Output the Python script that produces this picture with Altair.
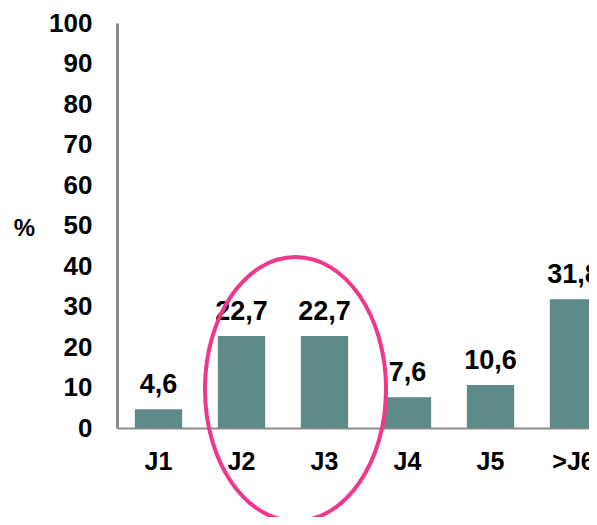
import altair as alt
import pandas as pd

categories = ["J1", "J2", "J3", "J4", "J5", ">J6"]
values = [4.6, 22.7, 22.7, 7.6, 10.6, 31.8]
y_ticks = list(range(0, 101, 10))

df = pd.DataFrame({"cat": categories, "val": values})

FONT = "Liberation Sans"
BAR = "#5E8A89"
AXIS = "#8C8C8C"
PINK = "#F0388A"

x_enc = alt.X(
    "cat:N",
    sort=categories,
    scale=alt.Scale(range=[0, 498], paddingInner=0.43, paddingOuter=0.215),
    axis=alt.Axis(
        title=None, labelAngle=0, labelFont=FONT, labelFontSize=25,
        labelFontWeight="bold", labelColor="black", labelPadding=21,
        ticks=False, domainColor=AXIS, domainWidth=2,
    ),
)
y_enc = alt.Y(
    "val:Q",
    scale=alt.Scale(domain=[0, 100], nice=False),
    axis=alt.Axis(
        values=y_ticks, title="%", titleAngle=0, titleX=-93, titleY=205,
        titleAlign="center", titleBaseline="middle", titleFont=FONT,
        titleFontSize=24, titleFontWeight="bold", titleColor="black",
        labelFont=FONT, labelFontSize=26, labelFontWeight="bold",
        labelColor="black", labelPadding=25, ticks=False, grid=False,
        domainColor=AXIS, domainWidth=3,
    ),
)

base = alt.Chart(df)
bars = base.mark_bar(color=BAR).encode(x=x_enc, y=y_enc)
labels = base.transform_calculate(
    lbl="replace(format(datum.val, '.1f'), '.', ',')"
).mark_text(
    dy=-16, baseline="alphabetic", fontSize=27, fontWeight="bold",
    font=FONT, color="black",
).encode(x=x_enc, y=y_enc, text="lbl:N")

ellipse_path = (
    "M 0,-1 C 0.379,-1 0.686,-0.552 0.686,0 "
    "C 0.686,0.552 0.379,1 0,1 "
    "C -0.379,1 -0.686,0.552 -0.686,0 "
    "C -0.686,-0.552 -0.379,-1 0,-1 Z"
)
ellipse = alt.Chart(pd.DataFrame({"a": [0]})).mark_point(
    shape=ellipse_path, size=69696, filled=False, stroke=PINK,
    strokeWidth=4, opacity=1,
).encode(x=alt.value(178.5), y=alt.value(366))

chart = alt.layer(bars, labels, ellipse).properties(
    width=472, height=405,
    autosize=alt.AutoSizeParams(type="none"),
    padding={"left": 109, "top": 15, "right": 0, "bottom": 89},
).configure_view(stroke=None)

chart.save("out.html", embed_options={"renderer": "svg", "actions": False})
